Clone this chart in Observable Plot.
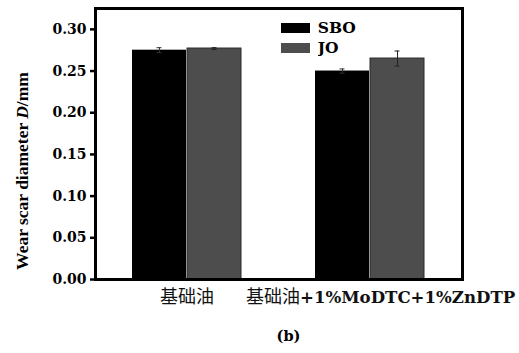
<!DOCTYPE html>
<html>
<head>
<meta charset="utf-8">
<script src="https://cdn.jsdelivr.net/npm/d3@7"></script>
<script src="https://cdn.jsdelivr.net/npm/@observablehq/plot@0.6"></script>
<style>
  html, body { margin: 0; padding: 0; background: #fff; }
  #wrap { position: relative; width: 519px; height: 353px; }
  #legend { position: absolute; left: 281px; top: 18px; }
</style>
</head>
<body>
<div id="wrap"><div id="chart"></div><div id="legend"></div></div>
<script>
// ---- data ----
const groups = ["基础油", "基础油+1%MoDTC+1%ZnDTP"];
const series = ["SBO", "JO"];
const sboValues = [0.275, 0.250];
const sboErrors = [0.003, 0.0025];
const joValues = [0.277, 0.265];
const joErrors = [0.001, 0.009];
const yTicks = [0.00, 0.05, 0.10, 0.15, 0.20, 0.25, 0.30];
const yLabel = "Wear scar diameter D/mm";
const caption = "(b)";
const colors = ["#000000", "#4d4d4d"];

const rows = [];
groups.forEach((g, i) => {
  rows.push({group: g, series: "SBO", value: sboValues[i], err: sboErrors[i]});
  rows.push({group: g, series: "JO", value: joValues[i], err: joErrors[i]});
});
const labelParts = groups.map(g => {
  const m = g.match(/^([^\x00-\x7f]+)(.*)$/);
  return {group: g, cjk: m ? m[1] : g, latin: m ? m[2] : ""};
});

// ---- layout ----
const W = 519, H = 353;
const mL = 95, mR = 57, mT = 8, mB = 74;
const pI = 0.402, pO = 0.1985;
const innerW = W - mL - mR;
const bw = innerW * (1 - pI) / (groups.length - pI + 2 * pO);
const capHalf = 3;

const serif = "'DejaVu Serif', serif";
const times = "'Liberation Serif', 'Times New Roman', serif";
const cjk = "'Noto Sans CJK SC', sans-serif";

const sbo = rows.filter(d => d.series === "SBO");
const jo = rows.filter(d => d.series === "JO");

const chart = Plot.plot({
  width: W, height: H,
  marginLeft: mL, marginRight: mR, marginTop: mT, marginBottom: mB,
  style: {fontFamily: serif, fontSize: "14px", fontWeight: "bold", color: "#000", background: "#fff"},
  x: {domain: groups, paddingInner: pI, paddingOuter: pO, axis: null},
  y: {domain: [0, 0.325], ticks: yTicks, tickFormat: d3.format(".2f"), tickSize: 5, tickPadding: 4, label: null},
  marks: [
    Plot.barY(sbo, {x: "group", y: "value", fill: colors[0], insetRight: bw / 2}),
    Plot.barY(jo, {x: "group", y: "value", fill: colors[1], stroke: "#2a2a2a", strokeWidth: 1, insetLeft: bw / 2}),
    Plot.ruleX(sbo, {x: "group", y1: d => d.value - d.err, y2: d => d.value + d.err, dx: -bw / 4, stroke: "#333", strokeWidth: 1}),
    Plot.ruleX(jo, {x: "group", y1: d => d.value - d.err, y2: d => d.value + d.err, dx: bw / 4, stroke: "#222", strokeWidth: 1}),
    Plot.tickY(sbo, {x: "group", y: d => d.value + d.err, insetLeft: bw / 4 - capHalf, insetRight: 3 * bw / 4 - capHalf, stroke: "#333", strokeWidth: 1}),
    Plot.tickY(sbo, {x: "group", y: d => d.value - d.err, insetLeft: bw / 4 - capHalf, insetRight: 3 * bw / 4 - capHalf, stroke: "#333", strokeWidth: 1}),
    Plot.tickY(jo, {x: "group", y: d => d.value + d.err, insetLeft: 3 * bw / 4 - capHalf, insetRight: bw / 4 - capHalf, stroke: "#222", strokeWidth: 1}),
    Plot.tickY(jo, {x: "group", y: d => d.value - d.err, insetLeft: 3 * bw / 4 - capHalf, insetRight: bw / 4 - capHalf, stroke: "#222", strokeWidth: 1}),
    Plot.frame({stroke: "#000", strokeWidth: 3}),
    // x labels
    Plot.text(labelParts.filter(d => !d.latin), {x: "group", text: "cjk", frameAnchor: "bottom", dy: 23, fontFamily: cjk, fontWeight: "normal", fontSize: 18, fill: "#111"}),
    Plot.text(labelParts.filter(d => d.latin), {x: "group", text: "cjk", frameAnchor: "bottom", dy: 23, dx: -70, textAnchor: "end", fontFamily: cjk, fontWeight: "normal", fontSize: 18, fill: "#111"}),
    Plot.text(labelParts.filter(d => d.latin), {x: "group", text: "latin", frameAnchor: "bottom", dy: 23, dx: -70, textAnchor: "start", fontFamily: serif, fontWeight: "bold", fontSize: 16.6, fill: "#111"}),
    // y label
    Plot.text([yLabel], {text: d => d, frameAnchor: "left", textAnchor: "middle", rotate: -90, dx: -73, dy: 27, fontFamily: times, fontWeight: "bold", fontSize: 17.5, fill: "#000"}),
    // caption
    Plot.text([caption], {text: d => d, frameAnchor: "bottom", dy: 61, dx: 9.5, fontFamily: serif, fontWeight: "bold", fontSize: 14.5, fill: "#000"})
  ]
});
document.getElementById("chart").appendChild(chart);

// thicker y ticks
d3.select(chart).selectAll("g[aria-label='y-axis'] line, g[aria-label='y-axis tick'] path, g[aria-label='y-axis tick'] line")
  .attr("stroke-width", 2.5);

// italic D in y label
d3.select(chart).selectAll("text").each(function() {
  if (this.textContent === yLabel) {
    const t = d3.select(this);
    t.text(null);
    const i = yLabel.indexOf(" D/");
    t.append("tspan").text(yLabel.slice(0, i + 1));
    t.append("tspan").attr("font-style", "italic").text("D");
    t.append("tspan").text(yLabel.slice(i + 2));
  }
});

// legend
const legend = Plot.legend({
  color: {domain: series, range: colors},
  legend: "swatches",
  columns: 1,
  swatchWidth: 29,
  swatchHeight: 10,
  style: {fontFamily: serif, fontSize: "15.5px", fontWeight: "bold", color: "#000", margin: 0}
});
document.getElementById("legend").appendChild(legend);
</script>
</body>
</html>
